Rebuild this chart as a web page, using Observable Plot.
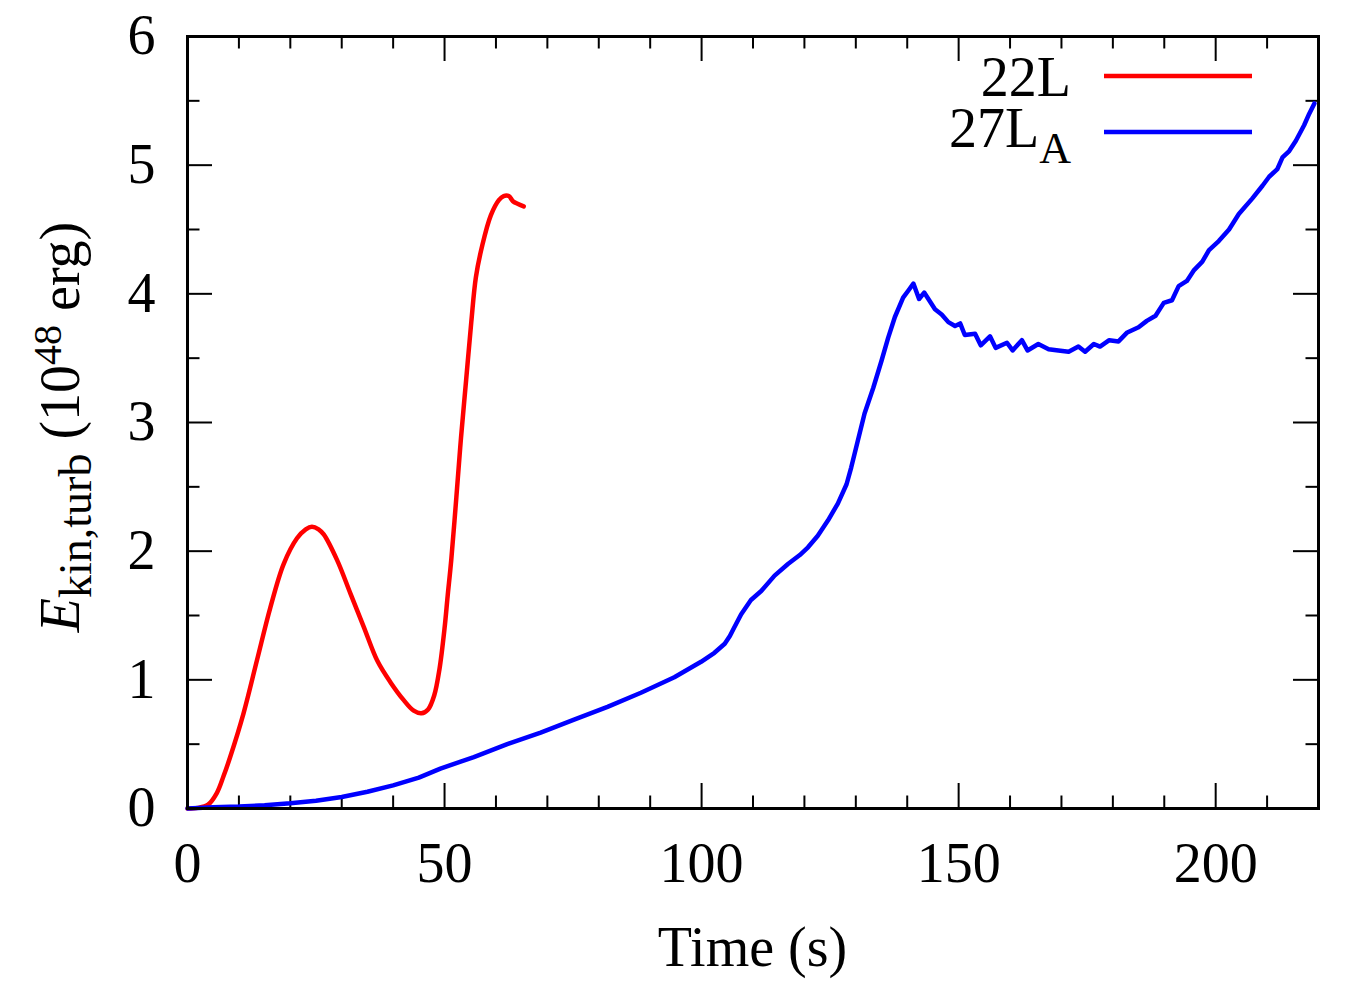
<!DOCTYPE html>
<html>
<head>
<meta charset="utf-8">
<script src="https://cdn.jsdelivr.net/npm/d3@7"></script>
<script src="https://cdn.jsdelivr.net/npm/@observablehq/plot@0.6"></script>
<style>
  html, body { margin: 0; padding: 0; background: #ffffff; }
  #chart { width: 1360px; height: 988px; }
</style>
</head>
<body>
<div id="chart"></div>
<script>
// ---- Data ----
const seriesNames = ["22L", "27L", "A"];          // legend texts (27L with subscript A)
const seriesColors = ["#ff0000", "#0000ff"];

const t22 = [0, 2, 4, 5.7, 7, 8.3, 10.9, 13.5, 16.1, 18.7, 21.3, 23, 24.2, 25.5, 26.5, 29.1, 31.7, 34.3, 36.9, 39.5, 42.1, 44, 45.5, 46.8, 48.0, 49.0, 50.0, 50.6, 51.3, 52.3, 53.2, 54.2, 55.2, 56.1, 57.3, 59.0, 60.6, 61.5, 62.5, 63.3, 64.2, 65.4];
const e22 = [0, 0.005, 0.03, 0.12, 0.25, 0.40, 0.74, 1.15, 1.56, 1.90, 2.10, 2.17, 2.19, 2.17, 2.13, 1.93, 1.67, 1.41, 1.15, 0.98, 0.84, 0.76, 0.74, 0.77, 0.88, 1.08, 1.40, 1.65, 1.93, 2.42, 2.88, 3.33, 3.78, 4.13, 4.37, 4.61, 4.73, 4.76, 4.76, 4.72, 4.70, 4.68];

const t27 = [0, 5, 10, 15, 20, 25, 30, 35, 40, 45, 49.2, 55.7, 62.2, 68.7, 75.2, 81.7, 88.2, 94.7, 99.9, 102.5, 104.5, 105.5, 106.4, 107.7, 109.6, 111.6, 114.2, 116.8, 119.1, 120.7, 122.6, 124.6, 126.5, 128.2, 129.1, 130.4, 131.7, 133.4, 135.0, 136.3, 137.6, 139.2, 140.3, 141.2, 142.3, 143.3, 145.4, 146.7, 148.0, 149.3, 150.3, 151.2, 153.2, 154.3, 156.1, 157.2, 159.4, 160.5, 162.3, 163.4, 165.5, 167.5, 169.4, 171.4, 173.3, 174.6, 176.3, 177.5, 179.3, 181.1, 182.8, 185.0, 186.6, 188.3, 189.9, 191.5, 192.8, 194.4, 195.7, 197.4, 198.7, 200.6, 202.6, 204.5, 207.1, 209.1, 210.4, 212.0, 213.0, 214.3, 215.6, 217.2, 218.2, 219.2];
const e27 = [0, 0.01, 0.015, 0.025, 0.04, 0.06, 0.09, 0.13, 0.18, 0.24, 0.31, 0.40, 0.50, 0.59, 0.69, 0.79, 0.90, 1.02, 1.14, 1.21, 1.28, 1.34, 1.41, 1.51, 1.62, 1.69, 1.81, 1.90, 1.97, 2.03, 2.12, 2.24, 2.37, 2.52, 2.65, 2.86, 3.07, 3.27, 3.48, 3.66, 3.82, 3.97, 4.03, 4.08, 3.96, 4.01, 3.88, 3.84, 3.78, 3.75, 3.77, 3.68, 3.69, 3.60, 3.67, 3.58, 3.62, 3.56, 3.64, 3.56, 3.61, 3.57, 3.56, 3.55, 3.59, 3.55, 3.61, 3.59, 3.64, 3.63, 3.70, 3.74, 3.79, 3.83, 3.93, 3.95, 4.06, 4.10, 4.18, 4.25, 4.34, 4.41, 4.50, 4.62, 4.74, 4.84, 4.91, 4.97, 5.06, 5.11, 5.19, 5.31, 5.40, 5.48];

const xMajor = [0, 50, 100, 150, 200];
const xMinor = [10, 20, 30, 40, 60, 70, 80, 90, 110, 120, 130, 140, 160, 170, 180, 190, 210];
const yMajor = [0, 1, 2, 3, 4, 5, 6];
const yMinor = [0.5, 1.5, 2.5, 3.5, 4.5, 5.5];

const xTitle = "Time (s)";

// ---- Build tables ----
const d22 = t22.map((t, i) => ({t, e: e22[i]}));
const d27 = t27.map((t, i) => ({t, e: e27[i]}));

const W = 1360, H = 988;
const mL = 187, mR = 42, mT = 36, mB = 180;
const fw = W - mL - mR, fh = H - mT - mB;
const majLen = 25, minLen = 12.5;
const font = "'Liberation Serif', 'Times New Roman', serif";

const chart = Plot.plot({
  width: W, height: H,
  marginLeft: mL, marginRight: mR, marginTop: mT, marginBottom: mB,
  style: {fontFamily: font, fontSize: "56px", background: "#ffffff", color: "#000"},
  x: {domain: [0, 220], label: null},
  y: {domain: [0, 6], label: null},
  marks: [
    // inward ticks, bottom & top
    Plot.ruleX(xMajor, {x: d => d, insetTop: fh - majLen, stroke: "#000", strokeWidth: 2}),
    Plot.ruleX(xMajor, {x: d => d, insetBottom: fh - majLen, stroke: "#000", strokeWidth: 2}),
    Plot.ruleX(xMinor, {x: d => d, insetTop: fh - minLen, stroke: "#000", strokeWidth: 2}),
    Plot.ruleX(xMinor, {x: d => d, insetBottom: fh - minLen, stroke: "#000", strokeWidth: 2}),
    // inward ticks, left & right
    Plot.ruleY(yMajor, {y: d => d, insetRight: fw - majLen, stroke: "#000", strokeWidth: 2}),
    Plot.ruleY(yMajor, {y: d => d, insetLeft: fw - majLen, stroke: "#000", strokeWidth: 2}),
    Plot.ruleY(yMinor, {y: d => d, insetRight: fw - minLen, stroke: "#000", strokeWidth: 2}),
    Plot.ruleY(yMinor, {y: d => d, insetLeft: fw - minLen, stroke: "#000", strokeWidth: 2}),
    Plot.line(d22, {x: "t", y: "e", stroke: seriesColors[0], strokeWidth: 4.5, curve: "catmull-rom"}),
    Plot.line(d27, {x: "t", y: "e", stroke: seriesColors[1], strokeWidth: 4.5, curve: "linear"}),
    Plot.frame({stroke: "#000", strokeWidth: 3}),
    Plot.axisX({ticks: xMajor, tickSize: 0, tickPadding: 34, fontSize: 56, label: null, tickFormat: d => String(d)}),
    Plot.axisY({ticks: yMajor, tickSize: 0, tickPadding: 32, fontSize: 56, label: null, tickFormat: d => String(d)})
  ]
});

document.getElementById("chart").appendChild(chart);

// ---- Axis titles and legend as real SVG text ----
const svg = d3.select(chart);
const fg = svg.append("g").attr("font-family", font).attr("fill", "#000");

// x title
fg.append("text").attr("x", mL + fw / 2).attr("y", 966)
  .attr("text-anchor", "middle").attr("font-size", 56).text(xTitle);

// y title: E_{kin,turb} (10^{48} erg)
const yt = fg.append("text")
  .attr("transform", `translate(79, ${427}) rotate(-90)`)
  .attr("text-anchor", "middle").attr("font-size", 56);
yt.append("tspan").attr("font-style", "italic").text("E");
yt.append("tspan").attr("font-size", 46).attr("dy", 12).text("kin,turb");
yt.append("tspan").attr("dy", -12).text(" (10");
yt.append("tspan").attr("font-size", 40).attr("dy", -18).text("48");
yt.append("tspan").attr("dy", 18).text(" erg)");

// legend
const lx0 = 1104, lx1 = 1252, tx = 1071;
fg.append("text").attr("x", tx).attr("y", 96).attr("text-anchor", "end")
  .attr("font-size", 56).text(seriesNames[0]);
const l2 = fg.append("text").attr("x", tx).attr("y", 147).attr("text-anchor", "end")
  .attr("font-size", 56);
l2.append("tspan").text(seriesNames[1]);
l2.append("tspan").attr("font-size", 44).attr("dy", 16).text(seriesNames[2]);

fg.append("line").attr("x1", lx0).attr("x2", lx1).attr("y1", 76).attr("y2", 76)
  .attr("stroke", seriesColors[0]).attr("stroke-width", 4.5);
fg.append("line").attr("x1", lx0).attr("x2", lx1).attr("y1", 132).attr("y2", 132)
  .attr("stroke", seriesColors[1]).attr("stroke-width", 4.5);
</script>
</body>
</html>
